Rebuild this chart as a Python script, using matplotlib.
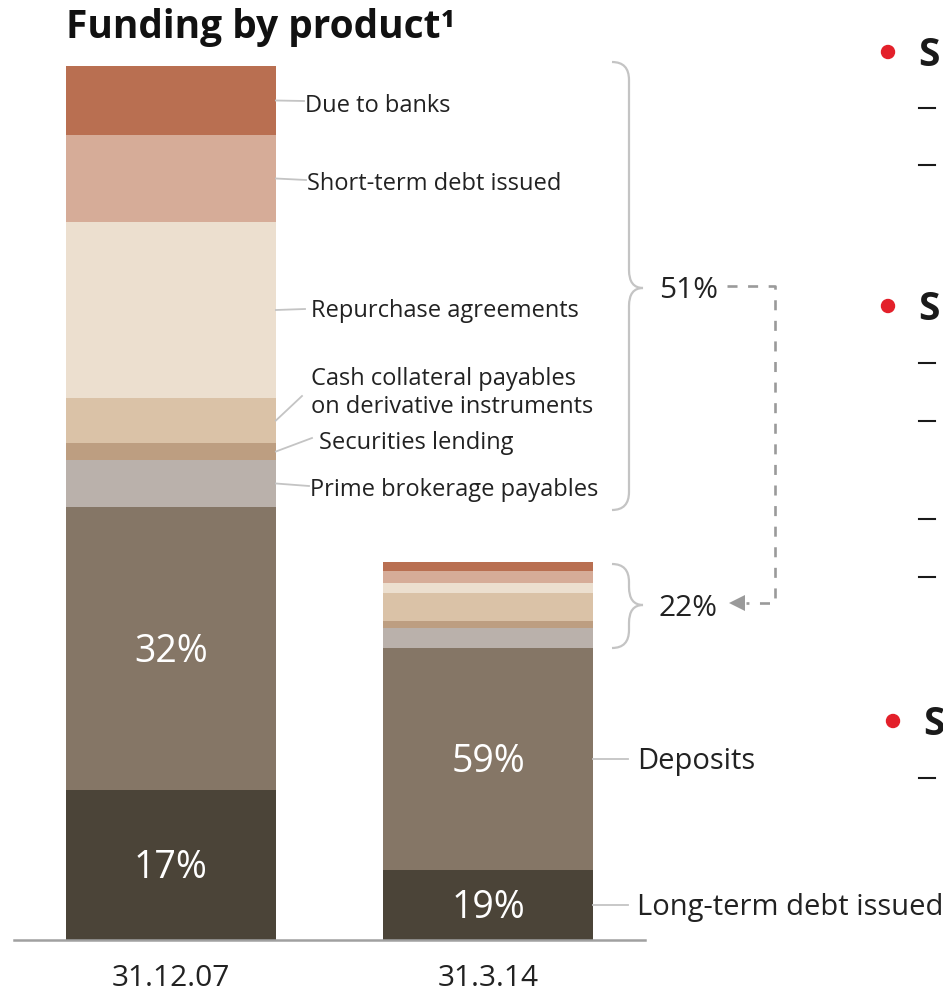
import matplotlib.pyplot as plt
from matplotlib.path import Path
from matplotlib.patches import PathPatch, Circle
import numpy as np

plt.rcParams['font.family'] = ['Open Sans', 'DejaVu Sans']

# Funding by product, approx. CHF bn
categories = ['31.12.07', '31.3.14']
products = ['Long-term debt issued', 'Deposits', 'Prime brokerage payables',
            'Securities lending', 'Cash collateral payables\non derivative instruments',
            'Repurchase agreements', 'Short-term debt issued', 'Due to banks']
values_dec07 = [300, 566, 94, 34, 90, 352, 174, 138]
values_mar14 = [140, 444, 40, 14, 56, 20, 24, 18]
colors = ['#4b4438', '#857666', '#bab1ab', '#bd9e81', '#dac2a7',
          '#ecdfcf', '#d6ac98', '#b96f51']

# printed shares
ltd_share = ['17%', '19%']
deposit_share = ['32%', '59%']
other_share = ['51%', '22%']

W, H = 943, 994
fig = plt.figure(figsize=(W / 100, H / 100), dpi=100)

# bar axes: baseline at y=940px, top of the 2007 bar at 66px
ax = fig.add_axes([14 / W, (H - 940) / H, (645 - 14) / W, (940 - 66) / H])
x = np.arange(len(categories))
bar_w = 0.662
ax.set_xlim(-0.495, 1.495)
ax.set_ylim(0, sum(values_dec07))
ax.axis('off')

bottom = np.zeros(2)
mids = []
for i, color in enumerate(colors):
    vals = np.array([values_dec07[i], values_mar14[i]])
    ax.bar(x, vals, bottom=bottom, width=bar_w, color=color, linewidth=0)
    mids.append(bottom + vals / 2)
    bottom = bottom + vals
tops = bottom

# baseline
ax.axhline(0, color='#a0a0a0', lw=1.8, clip_on=False)

# overlay in pixel coordinates for annotations
ov = fig.add_axes([0, 0, 1, 1])
ov.set_xlim(0, W)
ov.set_ylim(H, 0)
ov.axis('off')
ov.patch.set_alpha(0)


def to_px(xd, yd):
    px, py = ax.transData.transform((xd, yd))
    return px, H - py


def label(tx, ty, s, fs, color='#222222', **kw):
    # ty is the vertical centre of the capitals
    cap = 0.714 * fs * 100 / 72
    ov.text(tx, ty + cap / 2, s, va='baseline', fontsize=fs, color=color, **kw)


# category labels
for i, cat in enumerate(categories):
    cx, _ = to_px(x[i], 0)
    label(cx, 975, cat, 21.5, ha='center')

# white percentages inside the bars
for i in range(2):
    cx, cy = to_px(x[i], mids[0][i])
    label(cx, cy, ltd_share[i], 27, color='white', ha='center')
    cx, cy = to_px(x[i], mids[1][i])
    label(cx, cy, deposit_share[i], 27, color='white', ha='center')

line_c = '#c4c4c4'

# labels for the 2007 bar: (product index, text x, text y, line end x, line end y)
left_layout = [
    (7, 305, 103.5, 304, 101),
    (6, 307, 181.5, 306, 180),
    (5, 311, 309, 305, 309),
    (4, 311, 376.5, 302, 396),
    (3, 319, 441, 312, 438),
    (2, 310, 488, 309, 486),
]
for idx, tx, ty, lx, ly in left_layout:
    bx, by = to_px(x[0] + bar_w / 2, mids[idx][0])
    ov.plot([bx, lx], [by, ly], color=line_c, lw=1.3)
    for k, line in enumerate(products[idx].split('\n')):
        label(tx, ty + 28 * k, line, 17, ha='left')

# labels for the 2014 bar
for idx in [1, 0]:
    bx, by = to_px(x[1] + bar_w / 2, mids[idx][1])
    ov.plot([bx, bx + 35], [by, by], color=line_c, lw=1.3)
    label(bx + 44, by, products[idx], 21, ha='left')


# curly braces
def brace(x0, y_top, y_bot, y_tip, w=17, tip=14, r=18):
    xv = x0 + w
    xt = xv + tip
    verts = [(x0, y_top), (xv, y_top), (xv, y_top + r),
             (xv, y_tip - r), (xv, y_tip), (xt, y_tip),
             (xv, y_tip), (xv, y_tip + r),
             (xv, y_bot - r), (xv, y_bot), (x0, y_bot)]
    codes = [Path.MOVETO, Path.CURVE3, Path.CURVE3,
             Path.LINETO, Path.CURVE3, Path.CURVE3,
             Path.CURVE3, Path.CURVE3,
             Path.LINETO, Path.CURVE3, Path.CURVE3]
    ov.add_patch(PathPatch(Path(verts, codes), fill=False, edgecolor=line_c, lw=1.6))


_, top0 = to_px(0, tops[0])
_, dep0 = to_px(0, mids[2][0] - values_dec07[2] / 2)
_, top1 = to_px(1, tops[1])
_, dep1 = to_px(1, mids[2][1] - values_mar14[2] / 2)
brace(612, top0 - 4, dep0 + 3, 288)
brace(612, top1 + 2, dep1, 605)

label(659, 287, other_share[0], 21.5, ha='left')
label(659, 605, other_share[1], 21.5, ha='left')

# dashed connector 51% -> 22%
ov.plot([727, 775, 775, 746], [286, 286, 603, 603], color='#9a9a9a', lw=1.9,
        ls=(0, (3.8, 4)))
ov.plot([737], [603], marker='<', markersize=11, color='#9a9a9a', markeredgewidth=0)

# title
ov.text(66, 38, 'Funding by product¹', ha='left', va='baseline', fontsize=28,
        fontweight='bold', color='#111111')

# cut-off bullet list on the right
for bx, by in [(888, 52), (888, 306), (893, 721)]:
    ov.add_patch(Circle((bx, by), 6.5, color='#e3202a'))
    label(bx + 30, by, 'S', 28, color='#1a1a1a', fontweight='bold', ha='left')
for dy in [108, 165, 363, 421, 519, 577, 778]:
    ov.plot([919, 935], [dy, dy], color='#1a1a1a', lw=1.5)

fig.savefig('out.png', dpi=100)
